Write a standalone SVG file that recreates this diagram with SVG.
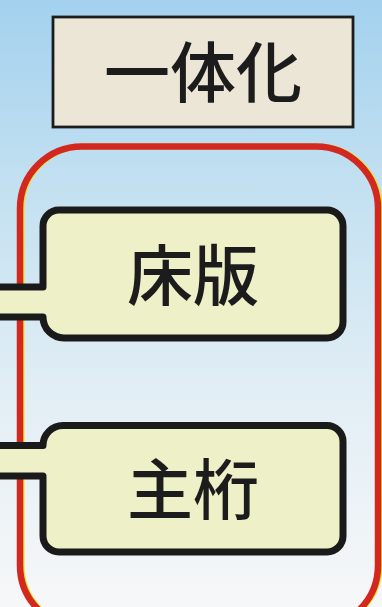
<svg xmlns="http://www.w3.org/2000/svg" width="382" height="607" viewBox="0 0 382 607">
  <defs>
    <linearGradient id="bg" x1="0" y1="0" x2="0" y2="1">
      <stop offset="0" stop-color="#a3d1ee"/>
      <stop offset="0.3" stop-color="#c2e0f1"/>
      <stop offset="0.65" stop-color="#e2eef5"/>
      <stop offset="1" stop-color="#f6f7f8"/>
    </linearGradient>
    <style>
      .lbl { font-family: "Noto Sans CJK JP", "Noto Sans CJK SC", sans-serif; font-size: 66px; font-weight: 500; fill: #1c1c1c; text-anchor: middle; }
      .cfill { fill: #eef0c8; stroke: none; }
      .cline { fill: none; stroke: #1a1a1a; stroke-width: 7; stroke-linejoin: round; }
    </style>
  </defs>
  <rect x="0" y="0" width="382" height="607" fill="url(#bg)"/>

  <g id="title">
    <rect x="53" y="17" width="300" height="110" fill="#ebe6d5" stroke="#1c1c1c" stroke-width="2.8"/>
    <text class="lbl" x="203" y="97">一体化</text>
  </g>

  <g id="frame">
    <rect x="21.5" y="146.5" width="358" height="481" rx="62" ry="62" fill="none" stroke="#f2e21a" stroke-width="6"/>
    <rect x="20" y="146.5" width="358" height="481" rx="62" ry="62" fill="none" stroke="#d3281f" stroke-width="6.5"/>
  </g>

  <g id="connectors">
    <path class="cfill" d="M0 287 H50 V317 H0 Z"/>
    <path class="cfill" d="M0 445.5 H50 V476 H0 Z"/>
  </g>

  <g id="floor-slab">
    <path class="cfill" d="M0 287 H43 V226 A16 16 0 0 1 59 210 H327 A16 16 0 0 1 343 226 V322 A16 16 0 0 1 327 338 H64 A21 21 0 0 1 43 317 H0 Z"/>
    <path class="cline" d="M0 287 H43 V226 A16 16 0 0 1 59 210 H327 A16 16 0 0 1 343 226 V322 A16 16 0 0 1 327 338 H64 A21 21 0 0 1 43 317 H0"/>
    <text class="lbl" x="193" y="300">床版</text>
  </g>

  <g id="main-girder">
    <path class="cfill" d="M0 445.5 H43 A20 20 0 0 1 63 425.5 H327 A16 16 0 0 1 343 441.5 V536 A16 16 0 0 1 327 552 H59 A16 16 0 0 1 43 536 V476 H0 Z"/>
    <path class="cline" d="M0 445.5 H43 A20 20 0 0 1 63 425.5 H327 A16 16 0 0 1 343 441.5 V536 A16 16 0 0 1 327 552 H59 A16 16 0 0 1 43 536 V476 H0"/>
    <text class="lbl" x="193" y="514">主桁</text>
  </g>
</svg>
